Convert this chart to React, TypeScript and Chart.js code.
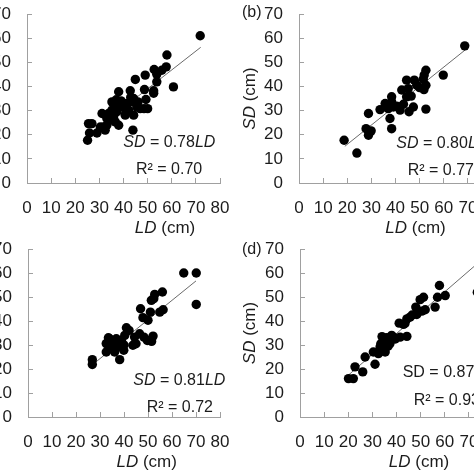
import { useEffect, useRef } from "react";
import { Chart, registerables } from "chart.js";

Chart.register(...registerables);

const FONT = '"Liberation Sans", Arial, sans-serif';
const TEXT = "#1c1c1c";
const AXIS = "#a0a0a0";

// tick labels
const ldTicks = [0, 10, 20, 30, 40, 50, 60, 70, 80];
const sdTicks = [0, 10, 20, 30, 40, 50, 60, 70];

// panel (a)
const ldA = [71.8, 58.0, 57.7, 55.9, 52.7, 53.8, 53.8, 60.7, 49.0, 44.9, 52.5, 52.5, 48.7, 42.8, 38.0, 49.3, 50.0, 48.5, 46.9, 46.0, 44.2, 42.8, 41.4, 40.0, 38.2, 36.6, 35.2, 35.2, 33.8, 31.1, 33.1, 35.9, 38.0, 33.1, 31.7, 32.4, 30.4, 29.0, 25.9, 25.1, 25.5, 26.9, 43.9, 44.2, 40.7, 42.1, 39.3, 37.3, 34.5, 36.6, 43.0, 39.0, 45.5, 37.0, 41.0];
const sdA = [61.0, 53.0, 48.1, 46.7, 47.0, 45.0, 41.9, 39.8, 44.7, 42.9, 38.2, 37.2, 38.7, 38.2, 37.8, 34.6, 30.8, 30.8, 30.8, 33.6, 35.0, 33.6, 32.9, 31.5, 33.6, 31.5, 33.6, 30.2, 28.8, 28.8, 26.7, 27.4, 23.9, 23.9, 23.2, 21.9, 23.2, 20.7, 20.7, 17.7, 24.6, 24.6, 21.9, 28.1, 28.1, 30.2, 32.2, 29.5, 26.0, 25.3, 35.5, 34.0, 31.5, 34.5, 29.0];
const trendLdA = [25, 72];
const trendSdA = [19.5, 56.2];

// panel (b)
const ldB = [68.7, 59.8, 52.6, 51.9, 51.5, 52.6, 51.8, 48.8, 47.8, 44.6, 45.3, 42.6, 44.6, 47.4, 45.6, 52.6, 40.5, 43.3, 41.9, 38.4, 38.4, 39.1, 35.7, 37.0, 33.6, 37.7, 38.4, 28.8, 27.8, 28.8, 29.9, 18.7, 24.0, 50.0, 46.5, 36.0];
const sdB = [56.8, 44.7, 46.7, 44.7, 43.0, 40.5, 38.7, 40.5, 42.6, 42.6, 39.1, 38.5, 35.7, 31.5, 29.5, 30.6, 31.8, 32.6, 30.2, 35.7, 33.6, 31.5, 32.9, 30.8, 30.4, 26.7, 22.5, 28.8, 22.5, 19.8, 21.6, 17.7, 12.4, 39.5, 36.0, 31.5];
const trendLdB = [19, 69];
const trendSdB = [15.2, 55.2];

// panel (c)
const ldC = [64.9, 70.1, 70.1, 56.0, 52.8, 52.4, 51.4, 56.3, 54.9, 51.0, 46.9, 47.9, 50.0, 41.0, 42.1, 46.5, 48.3, 52.1, 49.7, 44.4, 43.7, 40.3, 38.9, 36.8, 34.0, 32.6, 35.4, 37.5, 39.9, 36.1, 32.6, 38.2, 26.8, 26.8, 51.5, 34.0, 45.0, 33.5, 35.0, 40.0];
const sdC = [60.0, 60.0, 46.9, 52.1, 51.1, 49.3, 48.6, 44.7, 43.7, 43.7, 45.1, 41.4, 40.3, 37.2, 36.1, 34.7, 33.3, 33.7, 31.9, 33.3, 29.9, 34.0, 31.9, 32.6, 32.6, 30.6, 29.9, 29.2, 27.8, 27.1, 27.1, 23.9, 23.9, 21.9, 31.5, 28.5, 30.5, 33.0, 31.0, 30.0];
const trendLdC = [27, 70];
const trendSdC = [21.9, 56.7];

// panel (d)
const ldD = [57.8, 60.2, 57.0, 56.0, 51.2, 49.8, 51.9, 50.5, 48.0, 48.4, 45.6, 44.3, 41.1, 42.9, 44.3, 41.5, 38.7, 37.3, 34.6, 33.2, 32.5, 35.3, 30.4, 27.0, 31.1, 26.0, 22.8, 20.1, 22.1, 73.5, 36.0, 34.0, 36.5, 39.5, 35.5, 33.5, 38.0, 46.5, 43.5, 35.0];
const sdD = [54.8, 50.6, 49.9, 45.8, 49.9, 48.9, 44.7, 44.1, 45.8, 42.7, 41.6, 40.9, 39.1, 38.6, 33.6, 33.3, 33.3, 30.6, 31.9, 29.2, 26.4, 27.1, 27.1, 25.0, 22.0, 18.8, 20.9, 16.0, 16.0, 52.0, 33.0, 33.5, 29.5, 32.5, 31.0, 30.5, 34.0, 42.5, 39.0, 28.5];
const trendLdD = [20, 73.5];
const trendSdD = [17.4, 63.9];

type Seg = { t: string; it?: boolean };
type Note = {
  segs: Seg[];
  dx: number;
  dy: number;
  anchor: "left" | "center";
  from: "top" | "bottom" | "middle";
  rotate?: boolean;
  size: number;
};

type Panel = {
  key: string;
  left: number;
  top: number;
  w: number;
  h: number;
  ld: number[];
  sd: number[];
  tLd: number[];
  tSd: number[];
  notes: Note[];
};

const yTitle = (dx: number): Note => ({
  segs: [{ t: "SD", it: true }, { t: " (cm)" }],
  dx,
  dy: 0,
  anchor: "center",
  from: "middle",
  rotate: true,
  size: 17,
});
const xTitle = (dx: number): Note => ({
  segs: [{ t: "LD", it: true }, { t: " (cm)" }],
  dx,
  dy: 45.5,
  anchor: "center",
  from: "bottom",
  size: 17,
});
const tag = (t: string, dx: number, dy: number): Note => ({
  segs: [{ t }],
  dx,
  dy,
  anchor: "left",
  from: "top",
  size: 16,
});
const eqItalic = (k: string, dx: number, dy: number): Note => ({
  segs: [{ t: "SD", it: true }, { t: " = " + k }, { t: "LD", it: true }],
  dx,
  dy,
  anchor: "left",
  from: "top",
  size: 16,
});

const panels: Panel[] = [
  {
    key: "a",
    left: -53,
    top: 0,
    w: 293,
    h: 243,
    ld: ldA,
    sd: sdA,
    tLd: trendLdA,
    tSd: trendSdA,
    notes: [
      tag("(a)", -57, -1),
      yTitle(-48.5),
      xTitle(138),
      eqItalic("0.78", 96.3, 129),
      tag("R² = 0.70", 109, 156),
    ],
  },
  {
    key: "b",
    left: 219,
    top: 0,
    w: 293,
    h: 243,
    ld: ldB,
    sd: sdB,
    tLd: trendLdB,
    tSd: trendSdB,
    notes: [
      tag("(b)", -57, -1),
      yTitle(-48.3),
      xTitle(116.5),
      eqItalic("0.80", 97.3, 129.3),
      tag("R² = 0.77", 108.7, 156.7),
    ],
  },
  {
    key: "c",
    left: -52,
    top: 235,
    w: 292,
    h: 242,
    ld: ldC,
    sd: sdC,
    tLd: trendLdC,
    tSd: trendSdC,
    notes: [
      tag("(c)", -57, 1),
      yTitle(-48.5),
      xTitle(118.7),
      eqItalic("0.81", 105.3, 131.3),
      tag("R² = 0.72", 118.7, 158.7),
    ],
  },
  {
    key: "d",
    left: 220,
    top: 235,
    w: 293,
    h: 242,
    ld: ldD,
    sd: sdD,
    tLd: trendLdD,
    tSd: trendSdD,
    notes: [
      tag("(d)", -58, 1),
      yTitle(-49.3),
      xTitle(119),
      tag("SD = 0.87LD", 102.7, 124),
      tag("R² = 0.93", 113.7, 151.3),
    ],
  },
];

function makeNotesPlugin(notes: Note[]) {
  return {
    id: "panelNotes",
    afterDraw(chart: any) {
      const { ctx, chartArea } = chart;
      ctx.save();
      ctx.fillStyle = TEXT;
      ctx.textBaseline = "middle";
      ctx.textAlign = "left";
      for (const n of notes) {
        const fontOf = (s: Seg) => `${s.it ? "italic " : ""}${n.size}px ${FONT}`;
        let w = 0;
        for (const s of n.segs) {
          ctx.font = fontOf(s);
          w += ctx.measureText(s.t).width;
        }
        const ax = chartArea.left + n.dx;
        const ay =
          n.from === "top"
            ? chartArea.top + n.dy
            : n.from === "bottom"
            ? chartArea.bottom + n.dy
            : (chartArea.top + chartArea.bottom) / 2 + n.dy;
        ctx.save();
        ctx.translate(ax, ay);
        if (n.rotate) ctx.rotate(-Math.PI / 2);
        let x = n.anchor === "center" ? -w / 2 : 0;
        for (const s of n.segs) {
          ctx.font = fontOf(s);
          ctx.fillText(s.t, x, 0);
          x += ctx.measureText(s.t).width;
        }
        ctx.restore();
      }
      ctx.restore();
    },
  };
}

function PanelChart({ p }: { p: Panel }) {
  const ref = useRef<HTMLCanvasElement | null>(null);
  useEffect(() => {
    if (!ref.current) return;
    const tickFont = { family: FONT, size: 17 };
    const chart = new Chart(ref.current, {
      type: "scatter",
      data: {
        datasets: [
          {
            type: "scatter",
            data: p.ld.map((x, i) => ({ x, y: p.sd[i] })),
            pointRadius: 4.7,
            pointBackgroundColor: "#000",
            pointBorderWidth: 0,
            order: 0,
          } as any,
          {
            type: "line",
            data: p.tLd.map((x, i) => ({ x, y: p.tSd[i] })),
            borderColor: "#6a6a6a",
            borderWidth: 1,
            pointRadius: 0,
            showLine: true,
            fill: false,
            order: 1,
          } as any,
        ],
      },
      options: {
        responsive: false,
        animation: false,
        events: [],
        layout: { padding: { left: 40, right: 20, top: 14, bottom: 20 } },
        plugins: { legend: { display: false }, tooltip: { enabled: false } },
        scales: {
          x: {
            type: "linear",
            min: 0,
            max: 80,
            afterBuildTicks: (s: any) => {
              s.ticks = ldTicks.map((v) => ({ value: v }));
            },
            afterFit: (s: any) => {
              s.height = 40;
              s.paddingLeft = 0;
              s.paddingRight = 0;
            },
            ticks: {
              font: tickFont,
              color: TEXT,
              padding: 20.5,
              maxRotation: 0,
              autoSkip: false,
            },
            grid: {
              drawOnChartArea: false,
              drawTicks: true,
              tickLength: -5,
              color: AXIS,
              lineWidth: 1,
            },
            border: { display: true, color: AXIS, width: 1 },
          },
          y: {
            type: "linear",
            min: 0,
            max: 70,
            afterBuildTicks: (s: any) => {
              s.ticks = sdTicks.map((v) => ({ value: v }));
            },
            afterFit: (s: any) => {
              s.width = 40;
              s.paddingTop = 0;
              s.paddingBottom = 0;
            },
            ticks: {
              font: tickFont,
              color: TEXT,
              padding: 21,
              autoSkip: false,
            },
            grid: {
              drawOnChartArea: false,
              drawTicks: true,
              tickLength: -5,
              color: AXIS,
              lineWidth: 1,
            },
            border: { display: true, color: AXIS, width: 1 },
          },
        },
      } as any,
      plugins: [makeNotesPlugin(p.notes)],
    });
    return () => chart.destroy();
  }, [p]);
  return (
    <canvas
      ref={ref}
      width={p.w}
      height={p.h}
      style={{ position: "absolute", left: p.left, top: p.top, width: p.w, height: p.h }}
    />
  );
}

export default function App() {
  return (
    <div
      style={{
        position: "absolute",
        left: 0,
        top: 0,
        width: 474,
        height: 474,
        overflow: "hidden",
        background: "#fff",
      }}
    >
      {panels.map((p) => (
        <PanelChart key={p.key} p={p} />
      ))}
    </div>
  );
}
